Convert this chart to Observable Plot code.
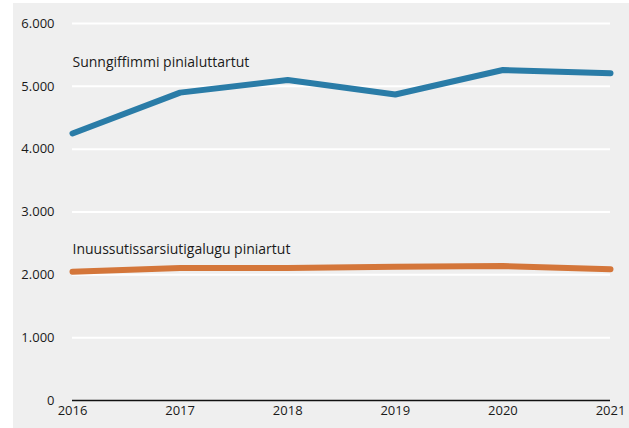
<!DOCTYPE html>
<html><head><meta charset="utf-8">
<script src="https://cdn.jsdelivr.net/npm/d3@7"></script>
<script src="https://cdn.jsdelivr.net/npm/@observablehq/plot@0.6"></script>
<style>
body{margin:0;background:#fff;}
#wrap{position:absolute;left:13px;top:3px;}
svg{background:#efefef;display:block;}
</style></head>
<body><div id="wrap"></div>
<script>
const years = [2016, 2017, 2018, 2019, 2020, 2021];
const sunngiffimmi = [4250, 4900, 5100, 4870, 5260, 5210];
const inuussutissarsiutigalugu = [2050, 2110, 2110, 2130, 2140, 2090];
const seriesNames = ["Sunngiffimmi pinialuttartut", "Inuussutissarsiutigalugu piniartut"];
const seriesColors = ["#2a7ca7", "#d4763a"];
const yTicks = [0, 1000, 2000, 3000, 4000, 5000, 6000];

const data = [
  ...years.map((y, i) => ({year: y, value: sunngiffimmi[i], series: seriesNames[0]})),
  ...years.map((y, i) => ({year: y, value: inuussutissarsiutigalugu[i], series: seriesNames[1]}))
];
const labels = [
  {year: 2016, value: 5380, text: seriesNames[0]},
  {year: 2016, value: 2400, text: seriesNames[1]}
];
const fmt = d => d === 0 ? "0" : d3.format(",")(d).replace(/,/g, ".");

const chart = Plot.plot({
  width: 616, height: 425,
  marginLeft: 59, marginRight: 19, marginTop: 20, marginBottom: 28,
  style: {fontFamily: "'Open Sans', sans-serif", fontSize: "13px", color: "#1a1a1a", background: "#efefef"},
  x: {domain: [2016, 2021], ticks: years, tickFormat: d => String(d), tickSize: 0, tickPadding: 5, label: null},
  y: {domain: [0, 6000], ticks: yTicks, tickFormat: fmt, tickSize: 0, tickPadding: 18, label: null},
  color: {domain: seriesNames, range: seriesColors},
  marks: [
    Plot.ruleY(yTicks.filter(d => d > 0), {stroke: "#fff", strokeWidth: 2}),
    Plot.line(data, {x: "year", y: "value", z: "series", stroke: "series", strokeWidth: 6, strokeLinejoin: "miter"}),
    Plot.ruleY([0], {stroke: "#111", strokeWidth: 1.5}),
    Plot.text(labels, {x: "year", y: "value", text: "text", textAnchor: "start", dx: 0, fontSize: 14, fill: "#1a1a1a"})
  ]
});
document.getElementById("wrap").appendChild(chart);
</script></body></html>
